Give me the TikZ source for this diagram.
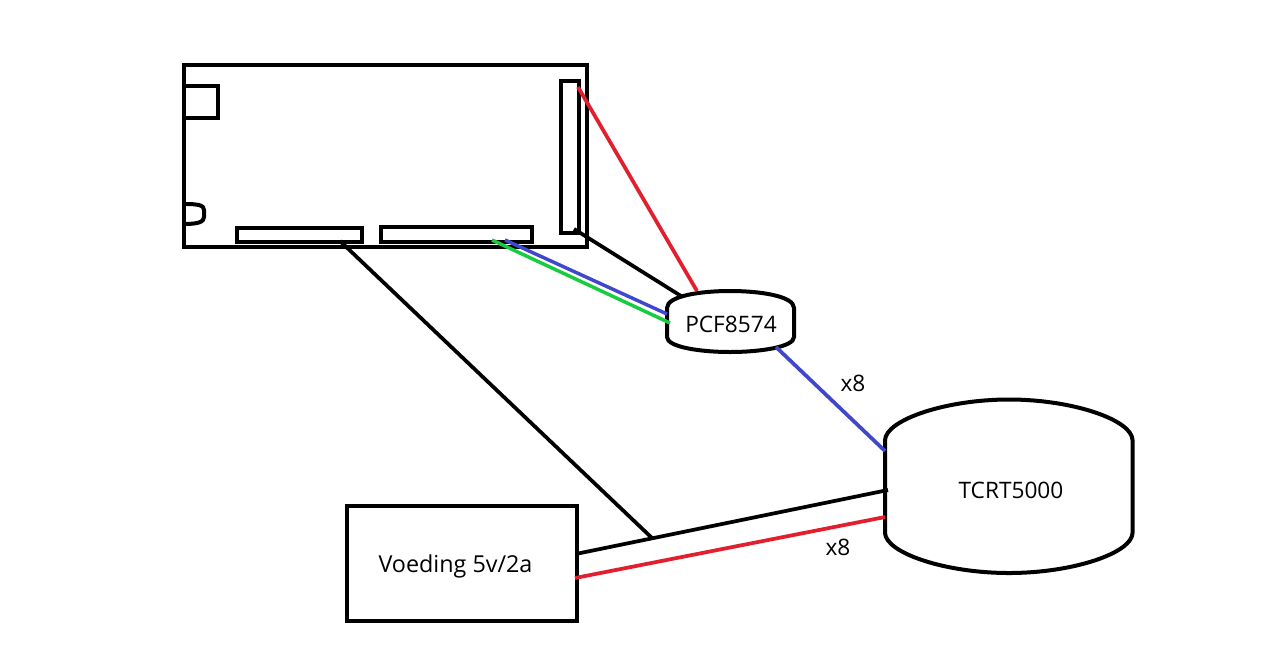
\documentclass[tikz,border=0pt]{standalone}
\usepackage{fontspec}
\setmainfont{Open Sans}
\definecolor{wirered}{HTML}{E21F2D}
\definecolor{wireblue}{HTML}{3F48CC}
\definecolor{wiregreen}{HTML}{17CC3E}
\tikzset{
  outline/.style={draw=black,line width=3pt,line join=miter,fill=none},
  partbox/.style={outline,rectangle,inner sep=0pt,outer sep=0pt,minimum width=#1},
  wire/.style={line width=2.8pt},
  thinwire/.style={line width=2.6pt},
  lbl/.style={font=\fontsize{17pt}{19pt}\selectfont,inner sep=0pt,text=black}
}
\begin{document}
\begin{tikzpicture}[x=0.75pt,y=-0.75pt]
\useasboundingbox (0,0) rectangle (1280,644);
% board
\node[partbox=302.4pt,minimum height=137.2pt,anchor=north west] (board) at (184,64.5) {};
\node[partbox=25.5pt,minimum height=24pt,anchor=north west] (socket) at (184,85.5) {};
\node[partbox=93.5pt,minimum height=10.2pt,anchor=north west] (hdrA) at (237,228) {};
\node[partbox=113pt,minimum height=11pt,anchor=north west] (hdrB) at (381,227) {};
\node[partbox=13.8pt,minimum height=114pt,anchor=north west] (hdrC) at (560.5,81) {};
\coordinate (jackT) at (184,204);
\coordinate (jackB) at (184,224);
\draw[outline] (jackT) .. controls (198,204) and (204,205) .. (204,210) -- (204,217) .. controls (204,222) and (198,224) .. (jackB);
% voeding
\node[partbox=172.5pt,minimum height=86.5pt,anchor=north west] (psu) at (347,505.5) {};
\node[lbl,font=\fontsize{17.5pt}{19pt}\selectfont] (psutxt) at (455.5,566.5) {Voeding 5v/2a};
% PCF blob
\coordinate (pa) at (667,308);
\coordinate (pb) at (794,308);
\coordinate (pc) at (794,337);
\coordinate (pd) at (667,337);
\draw[outline] (pa) .. controls (667,296) and (700,291) .. (730,291) .. controls (760,291) and (794,296) .. (pb) -- (pc) .. controls (794,347) and (760,352) .. (730,352) .. controls (700,352) and (667,347) .. (pd) -- cycle;
\node[lbl] (pcf) at (731,324.5) {PCF8574};
% TCRT blob
\coordinate (ta) at (885,440);
\coordinate (tb) at (1132.5,440);
\coordinate (tc) at (1132.5,533);
\coordinate (td) at (885,533);
\draw[outline] (ta) .. controls (886,420) and (945,399.5) .. (1009,399.5) .. controls (1073,399.5) and (1132,420) .. (tb) -- (tc) .. controls (1132,553) and (1073,573) .. (1009,573) .. controls (945,573) and (886,553) .. (td) -- cycle;
\node[lbl] (tcrt) at (1011,490.5) {TCRT5000};
% wire ends
\coordinate (w1a) at (578,87);   \coordinate (w1b) at (697,291);
\coordinate (w2a) at (574,229);  \coordinate (w2b) at (681,296);
\coordinate (w3a) at (505,240);  \coordinate (w3b) at (667,314);
\coordinate (w4a) at (492,240);  \coordinate (w4b) at (670,323);
\coordinate (w5a) at (776,347);  \coordinate (w5b) at (885,451);
\coordinate (w6a) at (578,553.5);  \coordinate (w6b) at (888,490);
\coordinate (w7a) at (575,578);  \coordinate (w7b) at (885,517);
\coordinate (w8a) at (340,241);  \coordinate (w8b) at (652,538);
\draw[wire,wirered] (w1a) -- (w1b);
\draw[wire,black] (w2a) -- (w2b);
\draw[thinwire,wireblue] (w3a) -- (w3b);
\draw[thinwire,wiregreen] (w4a) -- (w4b);
\draw[wire,wireblue] (w5a) -- (w5b);
\draw[wire,black] (w6a) -- (w6b);
\draw[wire,wirered] (w7a) -- (w7b);
\draw[wire,black] (w8a) -- (w8b);
\node[lbl] (x8a) at (853,383.5) {x8};
\node[lbl] (x8b) at (838,547) {x8};
\end{tikzpicture}
\end{document}
